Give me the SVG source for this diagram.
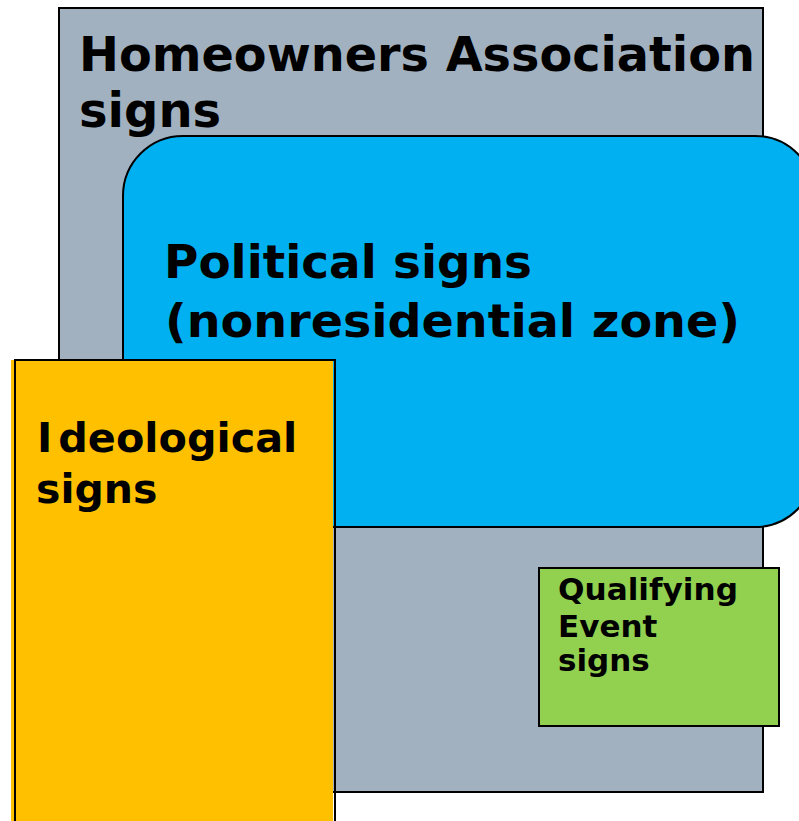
<svg xmlns="http://www.w3.org/2000/svg" width="799" height="821" viewBox="0 0 799 821">
<style>
.t{font-family:"DejaVu Sans","Verdana",sans-serif;font-weight:bold;fill:#000}
.o{stroke:#000;stroke-width:2}
</style>
<rect width="799" height="821" fill="#fff"/>
<g id="hoa">
<rect class="o" x="59" y="8" width="704" height="784" fill="#A2B1C0"/>
<text class="t" font-size="48"><tspan x="79" y="71" textLength="676" lengthAdjust="spacingAndGlyphs">Homeowners Association</tspan><tspan x="79" y="127">signs</tspan></text>
</g>
<g id="political">
<rect class="o" x="123" y="136" width="692" height="391" rx="60" ry="60" fill="#00B0F0"/>
<text class="t" font-size="46"><tspan x="164" y="278" textLength="368" lengthAdjust="spacingAndGlyphs">Political signs</tspan><tspan x="165" y="337" textLength="575" lengthAdjust="spacingAndGlyphs">(nonresidential zone)</tspan></text>
</g>
<g id="ideological">
<rect x="11" y="360" width="322" height="470" fill="#FFC000"/>
<path class="o" d="M15,830 V360 H335 V830" fill="none"/>
<text class="t" font-size="41"><tspan x="37" y="452">I</tspan><tspan dx="6" textLength="239" lengthAdjust="spacingAndGlyphs">deological</tspan><tspan x="36" y="503">signs</tspan></text>
</g>
<g id="qualifying">
<rect class="o" x="539" y="568" width="240" height="158" fill="#92D050"/>
<text class="t" font-size="31"><tspan x="558" y="600" textLength="180" lengthAdjust="spacingAndGlyphs">Qualifying</tspan><tspan x="558" y="637">Event</tspan><tspan x="558" y="671">signs</tspan></text>
</g>
<g id="connectors"></g>
</svg>
